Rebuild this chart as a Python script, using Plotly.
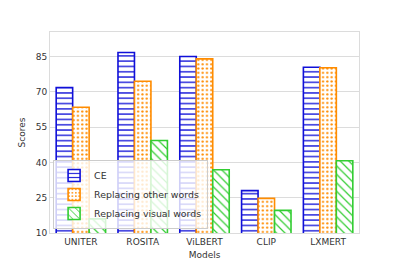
import plotly.graph_objects as go

models = ["UNITER", "ROSITA", "ViLBERT", "CLIP", "LXMERT"]
ce = [71.8, 86.7, 85.0, 28.0, 80.4]
other_words = [63.4, 74.5, 84.0, 24.7, 80.2]
visual_words = [16.0, 49.3, 36.9, 19.6, 40.7]
y_ticks = [10, 25, 40, 55, 70, 85]

series = [
    ("CE", ce, "#1010d8", "-", 5.3, 0.25),
    ("Replacing other words", other_words, "#ff8c00", ".", 4.3, 0.22),
    ("Replacing visual words", visual_words, "#32cd32", "\\", 6, 0.2),
]

fig = go.Figure()
for name, vals, col, shape, size, sol in series:
    fig.add_trace(go.Bar(
        x=models, y=vals, name=name,
        marker=dict(
            color="white",
            line=dict(color=col, width=1.6),
            pattern=dict(shape=shape, fgcolor=col, bgcolor="white",
                         size=size, solidity=sol, fillmode="replace"),
        ),
    ))

fig.update_layout(
    width=399, height=266,
    margin=dict(l=42, r=48, t=24, b=41, autoexpand=False),
    paper_bgcolor="white", plot_bgcolor="white",
    barmode="group", bargap=0.2, bargroupgap=0,
    font=dict(family="DejaVu Sans", size=9, color="#333"),
    showlegend=True,
    legend=dict(x=0.01, y=0.02, xanchor="left", yanchor="bottom",
                bgcolor="rgba(255,255,255,0.8)", bordercolor="#cccccc",
                borderwidth=1, font=dict(size=9.4, color="#333"),
                tracegroupgap=0, itemwidth=30),
    xaxis=dict(range=[-0.5, 4.5], showgrid=False, ticks="",
               showline=True, linecolor="#dcdcdc", linewidth=1, mirror=True,
               title=dict(text="Models", standoff=5, font=dict(size=9)),
               tickfont=dict(size=9)),
    yaxis=dict(range=[10, 95.4], tickvals=y_ticks, showgrid=True,
               gridcolor="#dcdcdc", gridwidth=1, ticks="", zeroline=False,
               showline=True, linecolor="#dcdcdc", linewidth=1, mirror=True,
               title=dict(text="Scores", standoff=8, font=dict(size=9)),
               tickfont=dict(size=9)),
)

fig.write_html("out.html")
